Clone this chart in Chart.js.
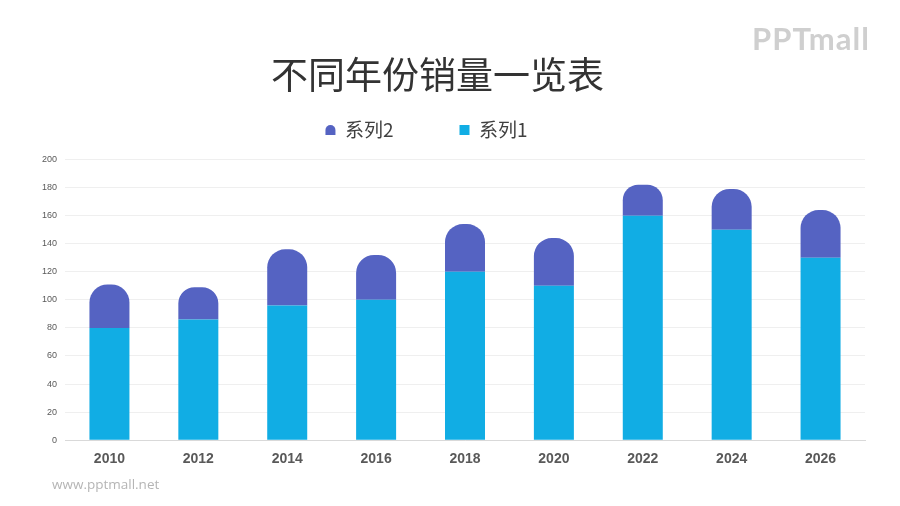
<!DOCTYPE html>
<html>
<head>
<meta charset="utf-8">
<script src="https://cdn.jsdelivr.net/npm/chart.js@4"></script>
<style>
html,body{margin:0;padding:0;background:#fff;}
#wrap{position:relative;width:900px;height:506px;}
#logo{position:absolute;left:752px;top:19px;font-family:"Lato","DejaVu Sans",sans-serif;font-size:31px;font-weight:700;color:#cfcfcf;letter-spacing:1px;}
#site{position:absolute;left:52px;top:475px;font-family:"Open Sans","DejaVu Sans",sans-serif;font-size:13.5px;color:#b5b5b5;}
</style>
</head>
<body>
<div id="wrap">
<canvas id="c" width="900" height="506"></canvas>
<div id="logo">PPTmall</div>
<div id="site">www.pptmall.net</div>
</div>
<script>
const categories = ["2010","2012","2014","2016","2018","2020","2022","2024","2026"];
const series1 = [80, 86, 96, 100, 120, 110, 160, 150, 130];
const series2 = [31, 23, 40, 32, 34, 34, 22, 29, 34];
const yTicks = [0,20,40,60,80,100,120,140,160,180,200];

const legendSpace = {
  id:'legendSpace',
  beforeInit(chart){
    const orig = chart.legend.fit;
    chart.legend.fit = function(){ orig.call(this); this.height += 10; };
  },
  afterLayout(chart){
    chart.legend.left -= 11;
    chart.legend.right -= 11;
  }
};

new Chart(document.getElementById('c'), {
  type:'bar',
  data:{
    labels:categories,
    datasets:[
      {label:'系列1', data:series1, backgroundColor:'#11ade4', borderWidth:0, stack:'s'},
      {label:'系列2', data:series2, backgroundColor:'#5563c2', borderRadius:{topLeft:18,topRight:18,bottomLeft:0,bottomRight:0}, borderSkipped:'start', stack:'s'}
    ]
  },
  options:{
    responsive:false,
    animation:false,
    layout:{padding:{left:10,right:35,top:0,bottom:35}},
    datasets:{bar:{categoryPercentage:0.9,barPercentage:0.5}},
    plugins:{
      title:{display:true,text:'不同年份销量一览表',color:'#333333',font:{family:'"Noto Sans CJK SC"',size:37,weight:'normal',lineHeight:0.5},padding:{top:66,bottom:-30}},
      legend:{display:true,reverse:true,labels:{color:'#404040',font:{family:'"Noto Sans CJK SC"',size:19},boxWidth:10,boxHeight:10,padding:66,useBorderRadius:true,
        generateLabels(chart){
          const items = Chart.defaults.plugins.legend.labels.generateLabels(chart);
          items.forEach(it=>{ it.borderRadius = it.datasetIndex===1 ? {topLeft:5,topRight:5,bottomLeft:0,bottomRight:0} : 0; it.lineWidth = 0; });
          return items;
        }}},
      tooltip:{enabled:false}
    },
    scales:{
      x:{stacked:true,grid:{display:false},border:{color:'#d9d9d9'},ticks:{color:'#595959',font:{family:'"Liberation Sans"',size:14,weight:'bold'},padding:3}},
      y:{stacked:true,min:0,max:200,afterBuildTicks(ax){ax.ticks=yTicks.map(v=>({value:v}));},afterFit(ax){ax.width=55;},grid:{color:'#efefef',drawTicks:false},border:{display:false},ticks:{color:'#595959',font:{family:'"Liberation Sans"',size:9},padding:8}}
    }
  },
  plugins:[legendSpace]
});
</script>
</body>
</html>
